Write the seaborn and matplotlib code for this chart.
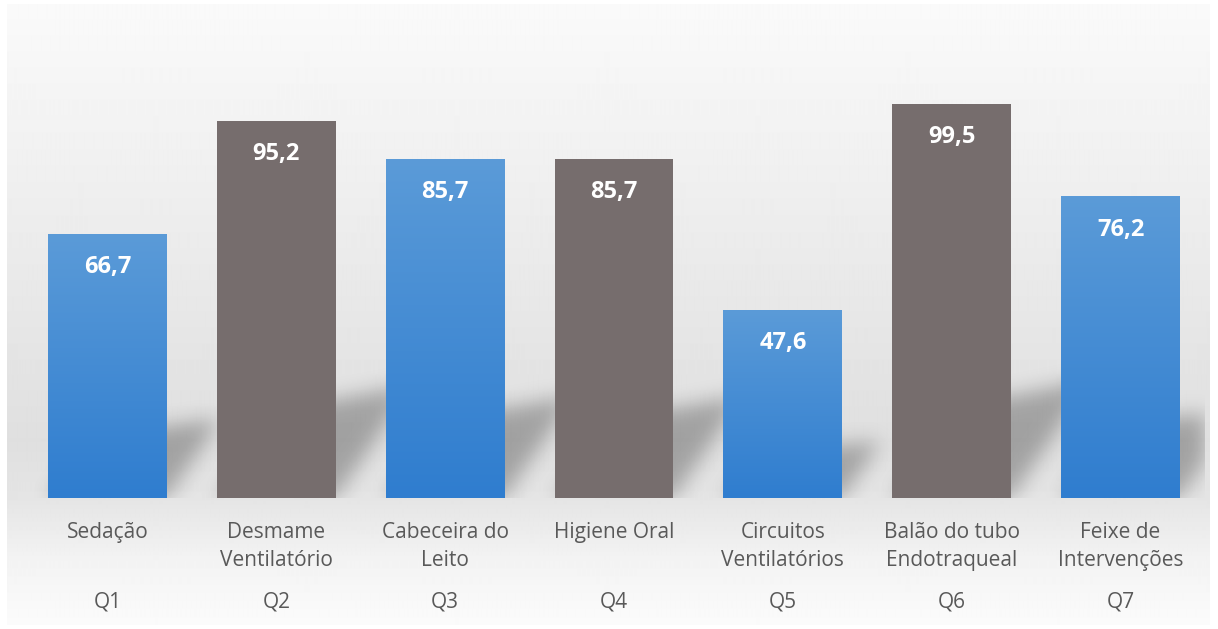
import numpy as np
import pandas as pd
import matplotlib
matplotlib.use("Agg")
import matplotlib.pyplot as plt
import seaborn as sns
from matplotlib.path import Path
from matplotlib.colors import to_rgb

# ---- data -------------------------------------------------------------
categories = ["Sedação", "Desmame\nVentilatório", "Cabeceira do\nLeito",
              "Higiene Oral", "Circuitos\nVentilatórios",
              "Balão do tubo\nEndotraqueal", "Feixe de\nIntervenções"]
codes = ["Q1", "Q2", "Q3", "Q4", "Q5", "Q6", "Q7"]
values = [66.7, 95.2, 85.7, 85.7, 47.6, 99.5, 76.2]
bar_style = ["blue", "gray", "blue", "gray", "blue", "gray", "blue"]

# ---- styling ----------------------------------------------------------
BLUE_TOP = "#5b9bd8"
BLUE_BOTTOM = "#2f7dcf"
GRAY = "#766d6d"
TEXT = "#595959"
FONT = ["Open Sans", "DejaVu Sans"]

sns.set_theme(style="white")
plt.rcParams["font.family"] = FONT

W, H = 1218, 629
fig = plt.figure(figsize=(W / 100, H / 100), dpi=100)
fig.patch.set_facecolor("white")

# soft vertical gradient panel behind the chart
bg = fig.add_axes([7 / W, 4 / H, 1203 / W, 621 / H])
ys = np.arange(4, 625)
stops_y = [4, 100, 250, 440, 500, 560, 625]
stops_v = [250, 244, 235, 223, 229, 243, 251]
shade = np.interp(ys, stops_y, stops_v) / 255.0
bg.imshow(np.repeat(shade[:, None], 4, axis=1), cmap="gray", vmin=0, vmax=1,
          aspect="auto", interpolation="bilinear")
bg.axis("off")

# main axes
ax = fig.add_axes([23 / W, (H - 498) / H, 1182 / W, 475 / H])
ax.patch.set_alpha(0)

df = pd.DataFrame({"categoria": categories, "valor": values, "estilo": bar_style})
palette = [BLUE_BOTTOM if s == "blue" else GRAY for s in bar_style]
sns.barplot(data=df, x="categoria", y="valor", hue="categoria", palette=palette,
            order=categories, hue_order=categories, width=0.704, legend=False,
            ax=ax, saturation=1)

XMIN, XMAX, YMAX = -0.5, 6.5, 120
ax.set_xlim(XMIN, XMAX)
ax.set_ylim(0, YMAX)

bars = sorted([p for p in ax.patches if p.get_height() > 0],
              key=lambda p: p.get_x())

# gradient fill for the blue bars
top_rgb = np.array(to_rgb(BLUE_TOP))
bot_rgb = np.array(to_rgb(BLUE_BOTTOM))
for p, style in zip(bars, bar_style):
    p.set_zorder(2)
    p.set_edgecolor("none")
    if style != "blue":
        continue
    t = np.linspace(0, 1, 256)[:, None]
    grad = (top_rgb * (1 - t) + bot_rgb * t)[:, None, :]
    img = ax.imshow(grad, extent=[p.get_x(), p.get_x() + p.get_width(), 0, p.get_height()],
                    aspect="auto", zorder=2.1, interpolation="bilinear", origin="upper")
    img.set_clip_path(p)

# soft cast shadow behind the bars, derived from each bar's geometry
axw, axh = 1182, 475
sx = axw / (XMAX - XMIN)
sy = axh / YMAX
shadow_top = 50
rows = int(shadow_top * sy)
gx, gy = np.meshgrid(np.arange(axw) + 0.5, np.arange(rows) + 0.5)
pts = np.column_stack([gx.ravel(), gy.ravel()])
mask = np.zeros(rows * axw)
for p in bars:
    x0 = (p.get_x() - XMIN) * sx
    x1 = (p.get_x() + p.get_width() - XMIN) * sx
    hs = 0.24 * p.get_height() * sy
    dx = 0.85 * hs
    dh = 0.25 * hs
    poly = Path([(x0, 0), (x1, 0), (x1 + dx, hs + dh), (x0 + dx, hs), (x0, 0)])
    mask = np.maximum(mask, poly.contains_points(pts).astype(float))
mask = mask.reshape(rows, axw)

sigma = 10.0
k = np.arange(-30, 31)
kern = np.exp(-0.5 * (k / sigma) ** 2)
kern /= kern.sum()
pad = 30
m = np.pad(mask, pad, mode="constant")
m = np.apply_along_axis(lambda r: np.convolve(r, kern, mode="same"), 1, m)
m = np.apply_along_axis(lambda c: np.convolve(c, kern, mode="same"), 0, m)
mask = m[pad:-pad, pad:-pad]
shadow = np.zeros((rows, axw, 4))
shadow[..., 3] = 0.28 * mask
ax.imshow(shadow, extent=[XMIN, XMAX, 0, rows / sy], origin="lower",
          aspect="auto", zorder=0.5, interpolation="bilinear")

ax.set_xlim(XMIN, XMAX)
ax.set_ylim(0, YMAX)

# value labels inside the bars
for p, v in zip(bars, values):
    ax.annotate(f"{v:.1f}".replace(".", ","),
                (p.get_x() + p.get_width() / 2, v),
                xytext=(0, -24), textcoords="offset points",
                ha="center", va="center", color="white",
                fontsize=17, fontweight="bold", zorder=3)

# category labels and question codes
ax.set_xticks(range(len(categories)))
ax.set_xticklabels(categories, fontsize=15, color=TEXT, linespacing=1.45)
ax.tick_params(axis="x", length=0, pad=17)
ax.set_xlabel("")
ax.set_ylabel("")
ax.set_yticks([])
for s in ax.spines.values():
    s.set_visible(False)

for i, c in enumerate(codes):
    ax.text(i, -(602 - 498) / 475, c, transform=ax.get_xaxis_transform(),
            ha="center", va="center", fontsize=15, color=TEXT)

fig.savefig("out.png", dpi=100, facecolor="white")
